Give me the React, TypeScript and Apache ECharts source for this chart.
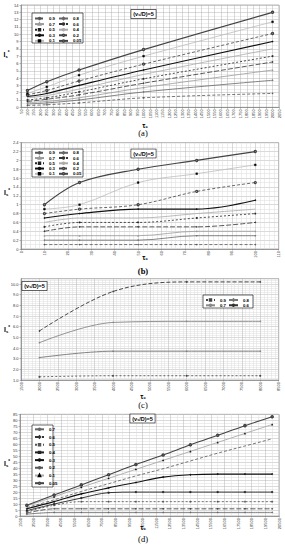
import React, { useEffect, useRef } from "react";
import * as echarts from "echarts";

// ---------- DATA ----------
const ALPHA_AB = ["0.9", "0.8", "0.7", "0.6", "0.5", "0.4", "0.3", "0.2", "0.1", "0.05"];
const ALPHA_C = ["0.9", "0.8", "0.7", "0.6"];
const ALPHA_D = ["0.7", "0.6", "0.5", "0.4", "0.3", "0.2", "0.1", "0.05"];

// (a)
const TAU_A = [100, 250, 500, 1000, 2000];
const IS_A_09 = [0.25, 0.35, 0.6, 1.3, 1.9];
const IS_A_08 = [0.45, 0.6, 1.0, 2.1, 3.7];
const IS_A_07 = [0.65, 0.8, 1.3, 2.7, 5.1];
const IS_A_06 = [0.8, 1.1, 1.7, 3.3, 6.2];
const IS_A_05 = [1.0, 1.3, 2.1, 3.9, 7.0];
const IS_A_04 = [1.3, 1.6, 2.5, 4.5, 8.0];
const IS_A_03 = [1.5, 1.9, 3.0, 5.1, 9.0];
const IS_A_02 = [1.7, 2.3, 3.6, 5.9, 10.1];
const IS_A_01 = [1.9, 2.8, 4.4, 7.0, 11.7];
const IS_A_005 = [2.3, 3.5, 5.1, 7.9, 13.0];

// (b)
const TAU_B = [10, 25, 50, 75, 100];
const IS_B_09 = [0.1, 0.1, 0.1, 0.1, 0.1];
const IS_B_08 = [0.2, 0.2, 0.2, 0.3, 0.3];
const IS_B_07 = [0.3, 0.3, 0.3, 0.4, 0.4];
const IS_B_06 = [0.4, 0.5, 0.5, 0.5, 0.6];
const IS_B_05 = [0.5, 0.6, 0.6, 0.7, 0.8];
const IS_B_04 = [0.6, 0.7, 0.7, 0.8, 0.9];
const IS_B_03 = [0.7, 0.8, 0.9, 0.9, 1.1];
const IS_B_02 = [0.8, 0.9, 1.0, 1.3, 1.5];
const IS_B_01 = [0.9, 1.0, 1.5, 1.7, 1.9];
const IS_B_005 = [1.0, 1.5, 1.8, 2.0, 2.2];

// (c)
const TAU_C = [2000, 4000, 6000, 8000];
const IS_C_09 = [1.3, 1.4, 1.4, 1.4];
const IS_C_08 = [3.1, 3.7, 3.7, 3.7];
const IS_C_07 = [4.5, 6.4, 6.5, 6.5];
const IS_C_06 = [5.6, 9.3, 10.2, 10.2];

// (d)
const TAU_D = [2000, 4000, 6000, 8000, 10000, 12000, 14000, 16000, 18000, 20000];
const IS_D_07 = [1.5, 3, 3, 3, 3, 3, 3, 3, 3, 3];
const IS_D_06 = [2.5, 6, 6, 6, 6, 6, 6, 6, 6, 6];
const IS_D_05 = [3.5, 9, 12, 12, 12, 12, 12, 12, 12, 12];
const IS_D_04 = [4.5, 10, 15, 19.5, 20, 20, 20, 20, 20, 20];
const IS_D_03 = [6, 12, 18.5, 23.5, 28, 32.5, 34.5, 35, 35, 35];
const IS_D_02 = [7, 13.5, 20.5, 27, 33.5, 39.5, 46, 52.5, 58.5, 64.5];
const IS_D_01 = [8.5, 16, 24, 31.5, 39, 46.5, 54, 61.5, 69, 76.5];
const IS_D_005 = [9, 17.5, 26, 34.5, 43, 51, 59.5, 67.5, 75.5, 83];

const VALUES_A = [IS_A_09, IS_A_08, IS_A_07, IS_A_06, IS_A_05, IS_A_04, IS_A_03, IS_A_02, IS_A_01, IS_A_005];
const VALUES_B = [IS_B_09, IS_B_08, IS_B_07, IS_B_06, IS_B_05, IS_B_04, IS_B_03, IS_B_02, IS_B_01, IS_B_005];
const VALUES_C = [IS_C_09, IS_C_08, IS_C_07, IS_C_06];
const VALUES_D = [IS_D_07, IS_D_06, IS_D_05, IS_D_04, IS_D_03, IS_D_02, IS_D_01, IS_D_005];

// ---------- STYLES ----------
type St = { color: string; type: any; width: number; symbol: string; size: number; mcolor?: string };
const STYLE_AB: Record<string, St> = {
  "0.9": { color: "#555", type: [3, 2], width: 0.8, symbol: "circle", size: 1.2 },
  "0.8": { color: "#666", type: "solid", width: 0.8, symbol: "diamond", size: 1.4 },
  "0.7": { color: "#999", type: "solid", width: 0.8, symbol: "triangle", size: 1.4 },
  "0.6": { color: "#333", type: [5, 2], width: 0.8, symbol: "circle", size: 1.2 },
  "0.5": { color: "#222", type: [2, 2], width: 0.8, symbol: "rect", size: 1.3 },
  "0.4": { color: "#aaa", type: "solid", width: 0.8, symbol: "none", size: 0 },
  "0.3": { color: "#111", type: "solid", width: 1.1, symbol: "circle", size: 1.2 },
  "0.2": { color: "#444", type: [3, 2], width: 0.8, symbol: "emptyCircle", size: 1.3 },
  "0.1": { color: "#bbb", type: "solid", width: 0.8, symbol: "rect", size: 1.8, mcolor: "#000" },
  "0.05": { color: "#444", type: "solid", width: 1.2, symbol: "emptyCircle", size: 1.4 },
};
const STYLE_C: Record<string, St> = {
  "0.9": { color: "#444", type: [2, 2], width: 0.8, symbol: "rect", size: 1.3 },
  "0.8": { color: "#777", type: "solid", width: 0.9, symbol: "diamond", size: 1.4 },
  "0.7": { color: "#888", type: "solid", width: 0.9, symbol: "circle", size: 1.2 },
  "0.6": { color: "#333", type: [4, 2], width: 0.9, symbol: "circle", size: 1.2 },
};
const STYLE_D: Record<string, St> = {
  "0.7": { color: "#666", type: "solid", width: 0.8, symbol: "circle", size: 1.2 },
  "0.6": { color: "#333", type: [5, 2], width: 0.8, symbol: "diamond", size: 1.4 },
  "0.5": { color: "#555", type: [2, 2], width: 0.8, symbol: "rect", size: 1.3 },
  "0.4": { color: "#222", type: "solid", width: 0.9, symbol: "rect", size: 1.5 },
  "0.3": { color: "#111", type: "solid", width: 1.1, symbol: "circle", size: 1.3 },
  "0.2": { color: "#555", type: [3, 2], width: 0.8, symbol: "none", size: 0 },
  "0.1": { color: "#aaa", type: "solid", width: 0.9, symbol: "triangle", size: 1.5, mcolor: "#000" },
  "0.05": { color: "#444", type: "solid", width: 1.1, symbol: "emptyCircle", size: 1.6 },
};

const FONT = "Liberation Sans";
const plain = (v: number) => String(Math.round(v * 1000) / 1000);

function mkSeries(panel: string, gi: number, alphas: string[], xs: number[], vals: number[][], styles: Record<string, St>) {
  return alphas.map((a, k) => {
    const st = styles[a];
    const mc = st.mcolor ?? st.color;
    return {
      type: "line",
      name: `${panel}:${a}`,
      xAxisIndex: gi,
      yAxisIndex: gi,
      data: xs.map((x, i) => [x, vals[k][i]]),
      smooth: 0.35,
      symbol: st.symbol,
      symbolSize: st.size,
      showSymbol: st.symbol !== "none",
      lineStyle: { color: st.color, width: st.width, type: st.type },
      itemStyle: { color: mc, borderColor: mc, borderWidth: 0.4 },
      emphasis: { disabled: true },
      silent: true,
      z: 2,
    };
  });
}

function xAxis(gi: number, min: number, max: number, interval: number, minor: number) {
  return {
    type: "value",
    gridIndex: gi,
    min,
    max,
    interval,
    axisLine: { show: true, onZero: false, lineStyle: { color: "#777", width: 0.6 } },
    axisTick: { show: true, length: 1.5, lineStyle: { color: "#777", width: 0.5 } },
    axisLabel: { fontSize: 4, rotate: 90, margin: 2, color: "#333", fontFamily: FONT, formatter: plain, hideOverlap: false },
    splitLine: { show: true, lineStyle: { color: "#b5b5b5", width: 0.5 } },
    minorTick: { show: false, splitNumber: minor },
    minorSplitLine: { show: minor > 1, lineStyle: { color: "#dcdcdc", width: 0.5 } },
  };
}
function yAxis(gi: number, min: number, max: number, interval: number, minor: number, fixed?: boolean) {
  return {
    type: "value",
    gridIndex: gi,
    min,
    max,
    interval,
    axisLine: { show: true, onZero: false, lineStyle: { color: "#777", width: 0.6 } },
    axisTick: { show: true, length: 1.5, lineStyle: { color: "#777", width: 0.5 } },
    axisLabel: {
      fontSize: 4,
      margin: 2.5,
      color: "#333",
      fontFamily: FONT,
      showMaxLabel: fixed ? false : true,
      formatter: fixed ? (v: number) => v.toFixed(1) : plain,
    },
    splitLine: { show: true, lineStyle: { color: "#b5b5b5", width: 0.5 } },
    minorTick: { show: false, splitNumber: minor },
    minorSplitLine: { show: minor > 1, lineStyle: { color: "#dcdcdc", width: 0.5 } },
  };
}

function legend(names: string[], left: number, top: number, gap: number) {
  return {
    show: true,
    orient: "vertical",
    left,
    top,
    itemGap: gap,
    itemWidth: 9,
    itemHeight: 1.8,
    padding: 0,
    selectedMode: false,
    data: names,
    formatter: (n: string) => n.split(":")[1],
    textStyle: { fontSize: 4.3, fontFamily: FONT, color: "#000", lineHeight: 5, fontWeight: "bold" },
    z: 10,
  };
}

function boxRect(x: number, y: number, w: number, h: number) {
  return { type: "rect", shape: { x, y, width: w, height: h }, style: { fill: "#fff", stroke: "#000", lineWidth: 0.6 }, z: 5 };
}
function titleBox(x: number, y: number) {
  return {
    type: "text",
    x,
    y,
    z: 6,
    style: {
      text: "{a|(v}{b|s}{a|/D)=5}",
      align: "center",
      verticalAlign: "middle",
      rich: {
        a: { fontSize: 5.5, fontWeight: "bold", fontFamily: FONT, fill: "#000" },
        b: { fontSize: 3.6, fontWeight: "bold", fontFamily: FONT, fill: "#000", verticalAlign: "bottom", padding: [2, 0, 0, 0] },
      },
      backgroundColor: "#fff",
      borderColor: "#000",
      borderWidth: 0.6,
      padding: [1.2, 2, 1.2, 2],
    },
  };
}
function yLabel(x: number, y: number) {
  return {
    type: "text",
    x,
    y,
    z: 6,
    style: {
      text: "{i|I}{s|s}{p|*}",
      align: "center",
      verticalAlign: "middle",
      rich: {
        i: { fontSize: 7, fontWeight: "bold", fontFamily: FONT, fill: "#000" },
        s: { fontSize: 4.2, fontWeight: "bold", fontFamily: FONT, fill: "#000", verticalAlign: "bottom", padding: [3, 0, 0, 0] },
        p: { fontSize: 4.5, fontWeight: "bold", fontFamily: FONT, fill: "#000", verticalAlign: "top", padding: [0, 0, 3, 0] },
      },
    },
  };
}
function xLabel(x: number, y: number) {
  return {
    type: "text",
    x,
    y,
    z: 6,
    style: {
      text: "{t|τ}{c|c}",
      align: "center",
      verticalAlign: "middle",
      rich: {
        t: { fontSize: 7, fontWeight: "bold", fontFamily: FONT, fill: "#000" },
        c: { fontSize: 4.2, fontWeight: "bold", fontFamily: FONT, fill: "#000", verticalAlign: "bottom", padding: [3, 0, 0, 0] },
      },
    },
  };
}
function panelLabel(text: string, x: number, y: number, bold: boolean) {
  return {
    type: "text",
    x,
    y,
    z: 6,
    style: { text, fontSize: 8.5, fontFamily: "Liberation Serif", fontWeight: bold ? "bold" : "normal", fill: "#000", align: "center", verticalAlign: "middle" },
  };
}

export default function App() {
  const ref = useRef<HTMLDivElement>(null);
  useEffect(() => {
    if (!ref.current) return;
    const chart = echarts.init(ref.current, undefined, { renderer: "svg" });
    const gridStyle = { show: true, borderColor: "#888", borderWidth: 0.6, backgroundColor: "#fff", outerBoundsMode: "none", containLabel: false };
    const option: any = {
      animation: false,
      backgroundColor: "#fff",
      grid: [
        { ...gridStyle, left: 21, top: 5, width: 258, height: 102.3 },
        { ...gridStyle, left: 21, top: 142.7, width: 257.7, height: 106.3 },
        { ...gridStyle, left: 21, top: 278.7, width: 257.7, height: 101.3 },
        { ...gridStyle, left: 20, top: 414.3, width: 259, height: 101.7 },
      ],
      xAxis: [
        xAxis(0, 50, 2050, 50, 1),
        xAxis(1, 0, 110, 10, 5),
        xAxis(2, 1500, 8500, 500, 5),
        xAxis(3, 1500, 20500, 1000, 2),
      ],
      yAxis: [
        yAxis(0, 0, 14, 1, 2),
        yAxis(1, 0, 2.4, 0.2, 2),
        yAxis(2, 1, 10.5, 1, 5, true),
        yAxis(3, 0, 85, 5, 2),
      ],
      legend: [
        legend(["a:0.9", "a:0.7", "a:0.5", "a:0.3", "a:0.1"], 34, 16, 0.6),
        legend(["a:0.8", "a:0.6", "a:0.4", "a:0.2", "a:0.05"], 58, 16, 0.6),
        legend(["b:0.9", "b:0.7", "b:0.5", "b:0.3", "b:0.1"], 34, 150.3, 0.25),
        legend(["b:0.8", "b:0.6", "b:0.4", "b:0.2", "b:0.05"], 58, 150.3, 0.25),
        legend(["c:0.9", "c:0.7"], 205, 297.5, 0.3),
        legend(["c:0.8", "c:0.6"], 228, 297.5, 0.3),
        legend(ALPHA_D.map((a) => "d:" + a), 34, 426.8, 2.7),
      ],
      series: [
        ...mkSeries("a", 0, ALPHA_AB, TAU_A, VALUES_A, STYLE_AB),
        ...mkSeries("b", 1, ALPHA_AB, TAU_B, VALUES_B, STYLE_AB),
        ...mkSeries("c", 2, ALPHA_C, TAU_C, VALUES_C, STYLE_C),
        ...mkSeries("d", 3, ALPHA_D, TAU_D, VALUES_D, STYLE_D),
      ],
      graphic: [
        boxRect(32, 13, 51, 30),
        boxRect(32, 149, 51, 28),
        boxRect(203, 295, 50, 13),
        boxRect(32, 425, 21, 62),
        titleBox(143.5, 14),
        titleBox(143.5, 153.5),
        titleBox(34.5, 286),
        titleBox(142.5, 418.5),
        yLabel(6.5, 54),
        yLabel(7, 192),
        yLabel(7, 329),
        yLabel(7, 463),
        xLabel(145, 125),
        xLabel(145, 257),
        xLabel(143, 396),
        xLabel(143, 527),
        panelLabel("(a)", 143, 133, false),
        panelLabel("(b)", 143, 271, true),
        panelLabel("(c)", 143, 404.5, false),
        panelLabel("(d)", 143, 539, false),
      ],
    };
    chart.setOption(option);
    return () => chart.dispose();
  }, []);
  return <div ref={ref} style={{ position: "absolute", left: 0, top: 0, width: 285, height: 550, background: "#fff" }} />;
}
